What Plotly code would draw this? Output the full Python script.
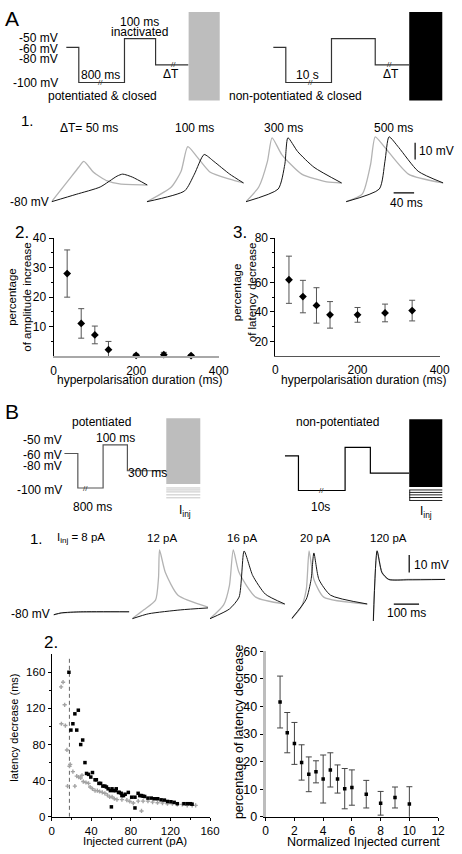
import plotly.graph_objects as go

FONT = "Liberation Sans, Arial, Helvetica, sans-serif"
W, H = 462, 854

# ---------------------------------------------------------------- data
# Voltage protocols (holding levels in mV, drawn segment widths in schematic units)
protoA_levels = [-60, -100, -50, -80]
protoA_left_widths = [13, 47, 32, 34]
protoA_right_widths = [13, 47, 45, 35]
protoB_levels = [-60, -100, -50, -80]
protoB_left_widths = [14, 26, 25, 40]
protoB_right_widths = [14, 48, 26, 40]
level_labels = ["-50 mV", "-60 mV", "-80 mV", "-100 mV"]

# A1: voltage traces (time ms, membrane potential mV); gray = potentiated, black = non-potentiated
A1_titles = ["ΔT= 50 ms", "100 ms", "300 ms", "500 ms"]
A1_gray_t = [
    [0, 32, 53, 63, 82, 109, 133, 187],
    [0, 48, 67, 80, 99, 124, 162, 189],
    [0, 25, 42, 51, 70, 109, 158, 187],
    [0, 32, 48, 57, 76, 122, 190],
]
A1_gray_v = [
    [-80, -67.6, -59.4, -55.9, -62.4, -67.6, -69.4, -70],
    [-80, -71.2, -61.8, -47.1, -53.5, -62.4, -66.5, -68.8],
    [-80, -71.2, -55.9, -41.8, -51.8, -63.5, -68.2, -68.8],
    [-80, -75.3, -57.6, -41.2, -47.6, -63.5, -68.8],
]
A1_black_t = [
    [0, 48, 95, 128, 139, 158, 187],
    [0, 74, 93, 112, 131, 162, 189],
    [0, 63, 76, 82, 101, 133, 187],
    [0, 65, 76, 84, 103, 141, 190],
]
A1_black_v = [
    [-80, -75.6, -71.2, -64.7, -63.5, -65.3, -70],
    [-80, -73.5, -63.5, -51.8, -55.9, -63.5, -68.8],
    [-80, -72.4, -57.6, -41.8, -50, -59.4, -68.8],
    [-80, -72.4, -55.9, -41.2, -47.6, -61.8, -68.8],
]

# A2 / A3
hyp_dur = [33, 67, 100, 133, 200, 267, 333]
amp_inc = [28, 11.1, 7.2, 2.2, 0.3, 0.5, 0.2]
amp_err = [8, 5, 3, 2.8, 0.4, 0.8, 0.3]
lat_dec = [61.8, 50.4, 44.4, 38, 38, 39.3, 40.9]
lat_err = [16, 11, 12, 9, 5, 6, 7]

# B1: voltage traces
B1_titles = ["I<sub>inj</sub> = 8 pA", "12 pA", "16 pA", "20 pA", "120 pA"]
B1_gray_t = [
    [0, 30, 100, 300],
    [0, 46, 92, 104, 108, 131, 181, 300],
    [0, 54, 77, 92, 115, 181, 296],
    [0, 38, 58, 69, 88, 127, 300],
    [4, 19, 38, 65, 142, 288],
]
B1_gray_v = [
    [-80, -79, -78.5, -78.2],
    [-82.2, -77.2, -71.7, -58.9, -43.3, -56.1, -68.9, -75.6],
    [-82.2, -74.4, -63.3, -43.3, -56.1, -70, -73.9],
    [-82.2, -75.6, -65.6, -43.9, -60, -70, -73.9],
    [-83.5, -43.9, -56.1, -60, -60, -60],
]
B1_black_t = [
    [0, 31, 108, 300],
    [0, 65, 192, 300],
    [0, 77, 115, 135, 169, 219, 296],
    [0, 58, 77, 88, 108, 154, 300],
    [4, 19, 38, 65, 142, 288],
]
B1_black_v = [
    [-80, -78.9, -78.3, -78.3],
    [-82.2, -79.4, -77.2, -76.1],
    [-82.2, -76.7, -70, -43.9, -57.8, -68.3, -73.9],
    [-82.2, -71.1, -60, -45, -60, -68.9, -73.9],
    [-83.5, -43.8, -56, -60, -60.2, -60],
]

# B2 left: latency decrease vs injected current
blk_I = [17.5, 19.5, 21.5, 23.5, 25.4, 27, 29.4, 31.4, 33.7, 35.3,
         37.3, 39.6, 41.3, 43.9, 45.2, 47.8, 49.5, 51.8, 53.8, 55.4,
         57.1, 59.4, 60.4, 61, 62.7, 64.4, 65.3, 67.6, 68.3, 70.3,
         71, 72.6, 74.3, 77.5, 80.9, 84.2, 84.2, 87.4, 89.1, 90.8,
         92.4, 94, 97.3, 100.7, 104, 107.2, 110.6, 113.9, 117.1, 120.5,
         123.8, 127, 133.7, 137, 140.3, 141.9]
blk_ms = [160, 96, 103, 114, 96, 118, 80, 85, 60, 48,
          47, 44, 49, 41, 41, 37, 37, 34, 34, 33,
          31, 29, 11, 31, 29, 29, 31, 27, 27, 26,
          23.5, 23.5, 25, 27, 21.7, 21.7, 9.8, 26, 23.5, 23.5,
          22.8, 22.5, 20.7, 20.7, 20, 20, 18.8, 18.5, 17, 16.7,
          16, 14.5, 14.5, 14.5, 14.5, 14]
gry_I = [9.6, 9.9, 11.6, 13.2, 13.9, 15.5, 16.1, 18.1, 18.8, 21.5,
         23.5, 25.4, 27.4, 29.4, 30.7, 32, 34.7, 37.3, 38.9, 41.3,
         43.9, 46.2, 48.5, 51.2, 53.8, 56.4, 58.7, 61.1, 63.4, 66,
         71, 76, 79, 82.5, 87.5, 90.8, 92.4, 97.3, 102, 107,
         112, 117, 122, 127, 132, 137, 142, 145.5]
gry_ms = [143.8, 103, 149, 124, 101, 74, 34, 56, 58, 50,
          34, 45, 44, 43, 46, 39, 38, 37, 33, 31,
          29, 29, 28, 27, 26, 24, 22, 22, 20, 19,
          19, 18.5, 17, 15.2, 17.4, 6.5, 17.4, 17.4, 16.3, 15.6,
          15.2, 14.5, 14.5, 13.8, 13.8, 12.7, 12.7, 12.7]
threshold_I = 18

# B2 right
norm_I = [1, 1.5, 2, 2.5, 3, 3.5, 4, 4.5, 5, 5.5, 6, 7, 8, 9, 10]
pct_lat = [41.6, 30.5, 26.6, 19.7, 15.4, 16.3, 13.7, 17, 13.7, 10.2, 10.6, 8.2, 4.9, 7, 4.6]
pct_err = [9.4, 7.3, 7.6, 6.4, 6.3, 4, 8.7, 6.2, 5.1, 7.3, 6.4, 5, 4.3, 3.8, 6.3]

# ---------------------------------------------------------------- helpers
GRAY_TR = "#b3b3b3"
BLACK_TR = "#151515"
PROTO = "#333333"

fig = go.Figure()
layout = dict(width=W, height=H, margin=dict(l=0, r=0, t=0, b=0),
              paper_bgcolor="white", plot_bgcolor="rgba(0,0,0,0)",
              showlegend=False, font=dict(family=FONT, size=12, color="black"))
annotations = []
shapes = []
n_axes = [0]


def PX(x):
    return x / W


def PY(y):
    return 1 - y / H


def akey(ref):
    return ref[0] + "axis" + ref[1:]


def axes(x0, x1, y0, y1, xr, yr):
    n_axes[0] += 1
    n = n_axes[0]
    s = "" if n == 1 else str(n)
    layout["xaxis" + s] = dict(domain=[PX(x0), PX(x1)], range=xr, anchor="y" + s,
                               visible=False, fixedrange=True, showgrid=False, zeroline=False)
    layout["yaxis" + s] = dict(domain=[PY(y1), PY(y0)], range=yr, anchor="x" + s,
                               visible=False, fixedrange=True, showgrid=False, zeroline=False)
    return "x" + s, "y" + s


def show_axis(ref, size=12, **kw):
    d = dict(visible=True, showline=True, linecolor="black", linewidth=1,
             ticks="outside", ticklen=3, tickwidth=1, tickcolor="black",
             tickfont=dict(family=FONT, size=size, color="black"), showticklabels=True)
    d.update(kw)
    layout[akey(ref)].update(d)


def line(xa, ya, t, v, color, width=1.1, shape="linear", dash=None):
    ln = dict(color=color, width=width, shape=shape)
    if dash:
        ln["dash"] = dash
    if shape == "spline":
        ln["smoothing"] = 0.6
    fig.add_trace(go.Scatter(x=t, y=v, xaxis=xa, yaxis=ya, mode="lines", line=ln,
                             hoverinfo="skip", cliponaxis=False))


def text(x, y, s, size=12, xanchor="center", yanchor="middle", angle=0,
         xref="paper", yref="paper", color="black"):
    if xref == "paper":
        x = PX(x)
    if yref == "paper":
        y = PY(y)
    annotations.append(dict(x=x, y=y, xref=xref, yref=yref, text=s, showarrow=False,
                            font=dict(family=FONT, size=size, color=color),
                            xanchor=xanchor, yanchor=yanchor, textangle=angle, borderpad=0))


def rect(x0, y0, x1, y1, fill):
    shapes.append(dict(type="rect", xref="paper", yref="paper", x0=PX(x0), x1=PX(x1),
                       y0=PY(y1), y1=PY(y0), fillcolor=fill, line=dict(width=0), layer="above"))


def hline_px(x0, x1, y, color, width=1):
    shapes.append(dict(type="line", xref="paper", yref="paper", x0=PX(x0), x1=PX(x1),
                       y0=PY(y), y1=PY(y), line=dict(color=color, width=width)))


def steps(levels, widths):
    t, v, cum = [0], [levels[0]], 0
    for i, (lv, w) in enumerate(zip(levels, widths)):
        if i > 0:
            t.append(cum)
            v.append(lv)
        cum += w
        t.append(cum)
        v.append(lv)
    return t, v


# ---------------------------------------------------------------- Panel A protocols
text(1, 12, "A", size=21, xanchor="left")
for lab, yy in zip(level_labels, [32, 43, 53, 77]):
    text(58, yy, lab, xanchor="right")

xa, ya = axes(65, 191, 20, 85, [0, sum(protoA_left_widths)], [-109.2, -36.4])
t, v = steps(protoA_levels, protoA_left_widths)
line(xa, ya, t, v, PROTO, 1.2)
text(35, -100, "//", size=8, xref=xa, yref=ya, color=PROTO)
text(110, -80, "//", size=8, xref=xa, yref=ya, color=PROTO)
rect(191, 5, 223, 95, "#bdbdbd")
text(140, 15, "100 ms")
text(140, 25, "inactivated")
text(100, 69, "800 ms")
text(102, 90, "potentiated &amp; closed")
text(173, 68, "ΔT")

xa, ya = axes(278, 418, 20, 85, [0, sum(protoA_right_widths)], [-109.2, -36.4])
t, v = steps(protoA_levels, protoA_right_widths)
line(xa, ya, t, v, PROTO, 1.2)
text(38, -100, "//", size=8, xref=xa, yref=ya, color=PROTO)
text(120, -80, "//", size=8, xref=xa, yref=ya, color=PROTO)
rect(418, 5, 452, 95, "black")
text(313, 69, "10 s")
text(301, 90, "non-potentiated &amp; closed")
text(399, 68, "ΔT")

# ---------------------------------------------------------------- A1 traces
text(17, 115, "1.", size=15, xanchor="left")
A1_x0 = [50, 148, 250, 353]
A1_lab_x = [88, 197, 289, 402]
for i in range(4):
    xa, ya = axes(A1_x0[i], A1_x0[i] + 100, 125, 200, [0, 190], [-81.2, -37.1])
    line(xa, ya, A1_gray_t[i], A1_gray_v[i], GRAY_TR, 1.3, "spline")
    line(xa, ya, A1_black_t[i], A1_black_v[i], BLACK_TR, 1.0, "spline")
    text(A1_lab_x[i], 123, A1_titles[i], size=12)
    if i == 3:
        line(xa, ya, [135, 135], [-54.7, -44.7], "black", 1.2)
        line(xa, ya, [93, 133], [-74.7, -74.7], "black", 1.2)
text(48, 198, "-80 mV", xanchor="right")
text(427, 146, "10 mV", xanchor="left")
text(415, 199, "40 ms")

# ---------------------------------------------------------------- A2
text(11, 229, "2.", size=17, xanchor="left")
xa, ya = axes(52, 222, 235, 355, [0, 400], [0, 40])
show_axis(xa, tickvals=[0, 200, 400], linecolor="#a8a8a8", linewidth=2, ticks="",
          ticklabelstandoff=2)
show_axis(ya, tickvals=[10, 20, 30, 40], ticklen=4,
          minor=dict(tickvals=[5, 15, 25, 35], ticks="outside", ticklen=2, tickcolor="black"))
fig.add_trace(go.Scatter(x=hyp_dur, y=amp_inc, xaxis=xa, yaxis=ya, mode="markers",
                         marker=dict(symbol="diamond", size=6, color="black"),
                         error_y=dict(type="data", array=amp_err, color="#555555", thickness=1, width=3),
                         hoverinfo="skip", cliponaxis=False))
text(17, 295, "percentage<br>of amplitude increase", size=11.5, angle=-90)
text(140, 379, "hyperpolarisation duration (ms)", size=12)

# ---------------------------------------------------------------- A3
text(236, 229, "3.", size=17, xanchor="left")
xa, ya = axes(280.3, 449.3, 235, 355, [0, 400], [10, 90])
show_axis(xa, tickvals=[0, 200, 400], linecolor="#555555", ticks="", ticklabelstandoff=2)
show_axis(ya, tickvals=[20, 40, 60, 90], ticktext=["20", "40", "60", "80"], ticklen=4,
          minor=dict(tickvals=[30, 50, 70, 80], ticks="outside", ticklen=2, tickcolor="black"))
fig.add_trace(go.Scatter(x=hyp_dur, y=lat_dec, xaxis=xa, yaxis=ya, mode="markers",
                         marker=dict(symbol="diamond", size=6, color="black"),
                         error_y=dict(type="data", array=lat_err, color="#555555", thickness=1, width=3),
                         hoverinfo="skip", cliponaxis=False))
text(248, 290, "percentage<br>of latency decrease", size=11.5, angle=-90)
text(371, 379, "hyperpolarisation duration (ms)", size=12)

# ---------------------------------------------------------------- Panel B protocols
text(1, 411, "B", size=21, xanchor="left")
for lab, yy in zip(level_labels, [440, 455, 467, 491]):
    text(62, yy, lab, xanchor="right")
xa, ya = axes(63, 168, 440, 500, [0, sum(protoB_left_widths)], [-112.5, -44.1])
t, v = steps(protoB_levels, protoB_left_widths)
line(xa, ya, t, v, "#555555", 1.2)
text(22, -100, "//", size=8, xref=xa, yref=ya, color=PROTO)
rect(168, 418, 203, 485, "#bdbdbd")
for yy in [489, 491, 493, 496, 499]:
    hline_px(168, 203, yy, "#c4c4c4", 1)
text(101, 422, "potentiated")
text(116, 438, "100 ms")
text(149, 474, "300 ms")
text(92, 508, "800 ms")
text(187, 512, "I<sub>inj</sub>")

xa, ya = axes(290, 418, 442.5, 502.5, [0, sum(protoB_right_widths)], [-112.5, -44.1])
t, v = steps(protoB_levels, protoB_right_widths)
line(xa, ya, t, v, "black", 1.2)
text(38, -100, "//", size=8, xref=xa, yref=ya, color=PROTO)
rect(418, 419, 452, 488, "black")
for yy in [491, 493.5, 496, 498.7, 501.7]:
    hline_px(418, 452, yy, "#222222", 1)
shapes.append(dict(type="line", xref="paper", yref="paper", x0=PX(418.5), x1=PX(418.5),
                   y0=PY(491), y1=PY(501.7), line=dict(color="#222222", width=1)))
text(344, 422, "non-potentiated")
text(327, 508, "10s")
text(435, 513, "I<sub>inj</sub>")

# ---------------------------------------------------------------- B1 traces
text(27, 540, "1.", size=15, xanchor="left")
B1_x0 = [52, 133, 213, 297, 380]
B1_lab = [(55, "left"), (164, "center"), (246, "center"), (321, "center"), (397, "center")]
for i in range(5):
    xa, ya = axes(B1_x0[i], B1_x0[i] + 78, 545, 628, [0, 300], [-85.6, -39.4])
    line(xa, ya, B1_gray_t[i], B1_gray_v[i], GRAY_TR, 1.3, "spline")
    line(xa, ya, B1_black_t[i], B1_black_v[i], BLACK_TR, 1.0, "spline")
    text(B1_lab[i][0], 540, B1_titles[i], size=11.5, xanchor=B1_lab[i][1])
    if i == 4:
        line(xa, ya, [146, 146], [-56.1, -46.1], "black", 1.2)
        line(xa, ya, [85, 185], [-73.9, -73.9], "black", 1.2)
text(49, 617, "-80 mV", xanchor="right")
text(422, 567, "10 mV", xanchor="left")
text(415, 616, "100 ms")

# ---------------------------------------------------------------- B2 left
text(41, 646, "2.", size=17, xanchor="left")
xa, ya = axes(50, 213, 658, 823.3, [0, 160], [0, 180])
show_axis(xa, size=11.5, tickvals=[0, 40, 80, 120, 160], ticklabelstandoff=0,
          minor=dict(tickvals=[20, 60, 100, 140], ticks="outside", ticklen=2, tickcolor="black"))
show_axis(ya, size=11.5, tickvals=[0, 40, 80, 120, 160],
          minor=dict(tickvals=[20, 60, 100, 140], ticks="outside", ticklen=2, tickcolor="black"))
line(xa, ya, [threshold_I, threshold_I], [0, 178], "#666666", 1, dash="4px,3px")
fig.add_trace(go.Scatter(x=gry_I, y=gry_ms, xaxis=xa, yaxis=ya, mode="markers",
                         marker=dict(symbol="cross", size=3.5, color="#a3a3a3"),
                         hoverinfo="skip", cliponaxis=False))
fig.add_trace(go.Scatter(x=blk_I, y=blk_ms, xaxis=xa, yaxis=ya, mode="markers",
                         marker=dict(symbol="square", size=3.5, color="black"),
                         hoverinfo="skip", cliponaxis=False))
text(11, 733, "latency decrease (ms)", size=11, angle=-90)
text(136, 848, "Injected current (pA)", size=11.5)

# ---------------------------------------------------------------- B2 right
xa, ya = axes(270.3, 447.7, 655, 823.3, [0, 12], [0, 60])
show_axis(xa, size=12, tickvals=[0, 2, 4, 6, 8, 10, 12], ticklabelstandoff=0)
show_axis(ya, size=12.5, tickvals=[0, 10, 20, 30, 40, 50, 60], linecolor="#bdbdbd", linewidth=3)
fig.add_trace(go.Scatter(x=norm_I, y=pct_lat, xaxis=xa, yaxis=ya, mode="markers",
                         marker=dict(symbol="square", size=3.5, color="black"),
                         error_y=dict(type="data", array=pct_err, color="#444444", thickness=1, width=3),
                         hoverinfo="skip", cliponaxis=True))
text(243, 737, "percentage of latency decrease", size=12.5, angle=-90)
text(371, 849, "Normalized Injected current", size=12.5)

layout["annotations"] = annotations
layout["shapes"] = shapes
fig.update_layout(**layout)
fig.write_html("out.html", config={"displayModeBar": False},
               post_script="document.body.style.margin='0px';")
